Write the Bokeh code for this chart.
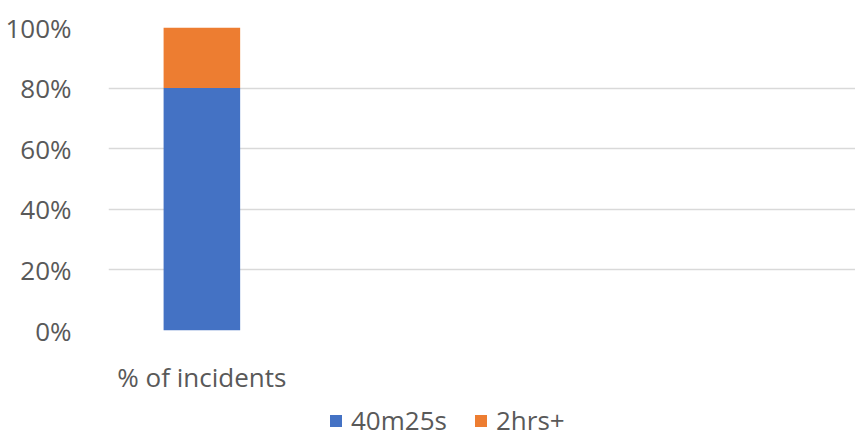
from bokeh.plotting import figure
from bokeh.layouts import column
from bokeh.models import FactorRange, Range1d, NumeralTickFormatter, Legend, LegendItem, ColumnDataSource, FixedTicker
from bokeh.embed import file_html
from bokeh.resources import INLINE

categories = ["% of incidents", " ", "  ", "   "]
series_names = ["40m25s", "2hrs+"]
val_40m25s = [0.80, 0, 0, 0]
val_2hrs = [0.20, 0, 0, 0]
colors = ["#4472C4", "#ED7D31"]
yticks = [0, 0.2, 0.4, 0.6, 0.8, 1.0]

FONT = "Open Sans"
GREY = "#595959"

src = ColumnDataSource(dict(cat=categories, a=val_40m25s, b=val_2hrs))

p = figure(width=855, height=400, output_backend="svg", toolbar_location=None,
           x_range=FactorRange(factors=categories, range_padding=0),
           y_range=Range1d(0, 1.0))
p.outline_line_color = None
p.min_border_left = 108
p.min_border_right = 0
p.min_border_top = 27
p.min_border_bottom = 70

rs = p.vbar_stack(["a", "b"], x="cat", width=0.41, color=colors, source=src, line_color=None)

p.yaxis.ticker = FixedTicker(ticks=yticks)
p.yaxis.formatter = NumeralTickFormatter(format="0%")
p.yaxis.axis_line_color = None
p.yaxis.major_tick_line_color = None
p.yaxis.minor_tick_line_color = None
p.yaxis.major_label_text_font = FONT
p.yaxis.major_label_text_font_size = "26px"
p.yaxis.major_label_text_color = GREY
p.yaxis.major_label_standoff = 31

p.xaxis.axis_line_color = None
p.xaxis.major_tick_line_color = None
p.xaxis.major_label_text_font = FONT
p.xaxis.major_label_text_font_size = "26px"
p.xaxis.major_label_text_color = GREY
p.xaxis.major_label_standoff = 22

p.xgrid.grid_line_color = None
p.ygrid.ticker = FixedTicker(ticks=yticks)
p.ygrid.grid_line_color = "#D9D9D9"
p.ygrid.grid_line_width = 1.5

# legend strip (same series; its bars lie outside this strip's view)
lg = figure(width=855, height=38, output_backend="svg", toolbar_location=None,
            x_range=FactorRange(factors=categories, range_padding=0), y_range=Range1d(5, 6))
lg.outline_line_color = None
lg.axis.visible = False
lg.grid.visible = False
lg.min_border_left = 0
lg.min_border_right = 0
lg.min_border_top = 0
lg.min_border_bottom = 0
lr = lg.vbar_stack(["a", "b"], x="cat", width=0.41, color=colors, source=src, line_color=None)

legend = Legend(items=[LegendItem(label=series_names[i], renderers=[lr[i]]) for i in range(2)],
                orientation="horizontal", location=(220, 0))
legend.label_text_font = FONT
legend.label_text_font_size = "26px"
legend.label_text_color = GREY
legend.label_height = 30
legend.glyph_width = 15
legend.glyph_height = 15
legend.spacing = 26
legend.label_standoff = 8
legend.border_line_color = None
legend.padding = 0
legend.margin = 0
legend.background_fill_alpha = 0
lg.add_layout(legend)

layout = column(p, lg, spacing=0)
open("out.html", "w").write(file_html(layout, INLINE))
